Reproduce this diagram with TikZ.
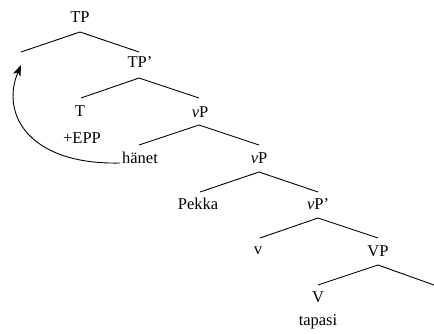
\documentclass[tikz,border=0pt]{standalone}
\usepackage{fontspec}
\setmainfont{Liberation Serif}
\usetikzlibrary{arrows.meta}
\begin{document}
\begin{tikzpicture}[x=1pt,y=-1pt,
  lbl/.style={anchor=base,inner sep=0pt,font=\fontsize{16.5}{19}\selectfont},
  branch/.style={line width=0.9pt,line join=miter},
  movearrow/.style={line width=0.9pt,-{Stealth[length=11pt,width=8pt,inset=3pt]}}]
\useasboundingbox (0,0) rectangle (434,333);

% labels (placed on their baselines)
\node[lbl] (tp)    at (80,22)   {TP};
\node[lbl] (tpbar) at (140,67)  {TP'};
\node[lbl] (t)     at (80,116)  {T};
\node[lbl] (epp)   at (82,143)  {+EPP};
\node[lbl] (vp1)   at (200,117) {\textit{v}P};
\node[lbl] (hanet) at (140,163) {hänet};
\node[lbl] (vp2)   at (259,163) {\textit{v}P};
\node[lbl] (pekka) at (198,209) {Pekka};
\node[lbl] (vpbar) at (318,209) {\textit{v}P'};
\node[lbl] (vhead) at (258,254) {v};
\node[lbl] (vp)    at (378,256) {VP};
\node[lbl] (vverb) at (318,302) {V};
\node[lbl] (tapasi) at (318,325) {tapasi};

% branching points
\coordinate (tp-top)   at (80,32);
\coordinate (spec-tp)  at (21,52);
\coordinate (tpbar-up) at (139,52);
\coordinate (tpbar-top) at (139,78);
\coordinate (t-up)     at (81,98);
\coordinate (vp1-up)   at (199,98);
\coordinate (vp1-top)  at (199,125);
\coordinate (hanet-up) at (139,145);
\coordinate (vp2-up)   at (259,145);
\coordinate (vp2-top)  at (259,172);
\coordinate (pekka-up) at (200,192);
\coordinate (vpbar-up) at (318,192);
\coordinate (vpbar-top) at (318,218);
\coordinate (vhead-up) at (260,238);
\coordinate (vp-up)    at (378,238);
\coordinate (vp-top)   at (378,265);
\coordinate (vverb-up) at (318,285);
\coordinate (comp-up)  at (434,285);

% branches
\draw[branch] (spec-tp) -- (tp-top) -- (tpbar-up);
\draw[branch] (t-up) -- (tpbar-top) -- (vp1-up);
\draw[branch] (hanet-up) -- (vp1-top) -- (vp2-up);
\draw[branch] (pekka-up) -- (vp2-top) -- (vpbar-up);
\draw[branch] (vhead-up) -- (vpbar-top) -- (vp-up);
\draw[branch] (vverb-up) -- (vp-top) -- (comp-up);

% movement of the object to Spec,TP
\coordinate (landing) at (21,65);
\draw[movearrow] (hanet.base west) ++(-2,0) .. controls (30,165) and (0,115) .. (landing);
\end{tikzpicture}
\end{document}
